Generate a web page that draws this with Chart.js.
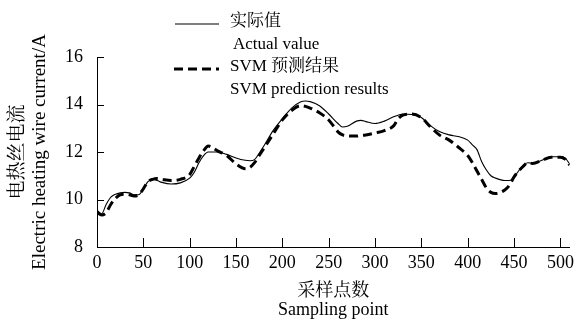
<!DOCTYPE html>
<html>
<head>
<meta charset="utf-8">
<script src="https://cdn.jsdelivr.net/npm/chart.js@4/dist/chart.umd.min.js"></script>
<style>
    html, body { margin: 0; padding: 0; background: #fff; }
    #wrap { width: 579px; height: 320px; position: relative; }
</style>
</head>
<body>
<div id="wrap"><canvas id="chart" width="579" height="320"></canvas></div>
<script>
// Sampling points and the two series
const samples = [0, 5, 10, 15, 20, 25, 30, 35, 40, 45, 50, 55, 60, 65, 70, 80, 90, 100, 105, 110,
    115, 120, 130, 140, 150, 160, 165, 170, 175, 180, 190, 200, 210, 220, 225, 230, 240, 250, 260,
    265, 270, 280, 285, 290, 300, 310, 320, 325, 330, 340, 350, 360, 370, 380, 390, 400, 405, 410,
    415, 420, 425, 430, 440, 445, 450, 460, 465, 470, 480, 490, 500, 505, 510];
const actualValues = [9.55, 9.4, 9.8, 10.1, 10.22, 10.28, 10.3, 10.28, 10.2, 10.2, 10.45, 10.75, 10.85,
    10.8, 10.72, 10.65, 10.7, 10.9, 11.15, 11.55, 11.85, 12.0, 12.0, 11.9, 11.75, 11.65, 11.63, 11.68,
    11.95, 12.25, 12.9, 13.4, 13.85, 14.12, 14.15, 14.12, 13.95, 13.6, 13.2, 13.05, 13.08, 13.3, 13.33,
    13.28, 13.2, 13.3, 13.48, 13.55, 13.6, 13.58, 13.45, 13.1, 12.85, 12.72, 12.65, 12.5, 12.3, 12.1,
    11.6, 11.25, 11.0, 10.9, 10.8, 10.8, 10.95, 11.45, 11.55, 11.52, 11.65, 11.8, 11.8, 11.75, 11.5];
const svmValues = [9.45, 9.35, 9.45, 9.8, 10.05, 10.2, 10.22, 10.2, 10.15, 10.2, 10.45, 10.75, 10.85,
    10.88, 10.85, 10.8, 10.85, 11.05, 11.4, 11.75, 12.05, 12.25, 12.05, 11.85, 11.5, 11.3, 11.35, 11.55,
    11.85, 12.15, 12.75, 13.35, 13.75, 13.95, 13.92, 13.85, 13.65, 13.35, 12.85, 12.72, 12.68, 12.67,
    12.7, 12.72, 12.8, 12.9, 13.1, 13.4, 13.55, 13.6, 13.45, 13.05, 12.7, 12.5, 12.2, 11.85, 11.55, 11.2,
    10.85, 10.5, 10.3, 10.25, 10.4, 10.6, 10.95, 11.4, 11.55, 11.52, 11.65, 11.78, 11.78, 11.7, 11.45];

const xTicks = [0, 50, 100, 150, 200, 250, 300, 350, 400, 450, 500];
const yTicks = [8, 10, 12, 14, 16];

const legendLabels = [
    ['实际值', 'Actual value'],
    ['SVM 预测结果', 'SVM prediction results']
];

const FONT = '"Liberation Serif", "Noto Serif CJK SC", "Noto Sans CJK SC", serif';

function toPoints(values) {
    return samples.map((x, i) => ({ x: x, y: values[i] }));
}

// Inward tick marks on both axes
const innerTicks = {
    id: 'innerTicks',
    afterDraw(chart) {
        const ctx = chart.ctx;
        const xs = chart.scales.x;
        const ys = chart.scales.y;
        ctx.save();
        ctx.strokeStyle = '#000';
        ctx.lineWidth = 1;
        ctx.beginPath();
        xTicks.forEach(v => {
            const px = Math.round(xs.getPixelForValue(v)) + 0.5;
            ctx.moveTo(px, ys.bottom);
            ctx.lineTo(px, ys.bottom - 9);
        });
        yTicks.forEach(v => {
            const py = Math.round(ys.getPixelForValue(v)) + 0.5;
            ctx.moveTo(xs.left, py);
            ctx.lineTo(xs.left + 7, py);
        });
        ctx.stroke();
        ctx.restore();
    }
};

// Legend with two text lines per entry
const twoLineLegend = {
    id: 'twoLineLegend',
    afterDraw(chart) {
        const ctx = chart.ctx;
        ctx.save();
        ctx.fillStyle = '#000';
        ctx.font = '17px ' + FONT;
        ctx.textBaseline = 'middle';
        const rows = [22, 67];
        chart.data.datasets.forEach((ds, i) => {
            const y = rows[i];
            ctx.strokeStyle = '#000';
            ctx.lineWidth = ds.borderWidth;
            ctx.setLineDash(ds.borderDash || []);
            ctx.beginPath();
            ctx.moveTo(i == 0 ? 175 : 174, y + 2);
            ctx.lineTo(219, y + 2);
            ctx.stroke();
            ctx.setLineDash([]);
            ctx.fillText(legendLabels[i][0], 230, y);
            ctx.fillText(legendLabels[i][1], i == 0 ? 233 : 230, y + 23);
        });
        ctx.restore();
    }
};

new Chart(document.getElementById('chart'), {
    type: 'line',
    data: {
        datasets: [{
            label: 'Actual value',
            data: toPoints(actualValues),
            borderColor: '#000',
            borderWidth: 1.1,
            pointRadius: 0,
            cubicInterpolationMode: 'monotone'
        }, {
            label: 'SVM prediction results',
            data: toPoints(svmValues),
            borderColor: '#000',
            borderWidth: 3,
            borderDash: [9, 5],
            pointRadius: 0,
            cubicInterpolationMode: 'monotone'
        }]
    },
    options: {
        responsive: false,
        animation: false,
        devicePixelRatio: 1,
        layout: { padding: { top: 57, right: 6, left: 0, bottom: 0 } },
        plugins: {
            legend: { display: false },
            tooltip: { enabled: false }
        },
        scales: {
            x: {
                type: 'linear',
                min: 0,
                max: 510,
                afterBuildTicks(scale) { scale.ticks = xTicks.map(v => ({ value: v })); },
                afterFit(scale) { scale.height = 73; },
                grid: { display: false, drawTicks: false },
                border: { display: true, color: '#000', width: 1 },
                ticks: {
                    color: '#000',
                    padding: 5,
                    maxRotation: 0,
                    autoSkip: false,
                    font: { family: FONT, size: 18 }
                },
                title: {
                    display: true,
                    text: ['采样点数', 'Sampling point'],
                    color: '#000',
                    font: { family: FONT, size: 18, lineHeight: 1.05 },
                    padding: { top: 6, bottom: 0 }
                }
            },
            y: {
                min: 8,
                max: 16,
                afterBuildTicks(scale) { scale.ticks = yTicks.map(v => ({ value: v })); },
                afterFit(scale) { scale.width = 97; },
                grid: { display: false, drawTicks: false },
                border: { display: true, color: '#000', width: 1 },
                ticks: {
                    color: '#000',
                    padding: 14,
                    autoSkip: false,
                    font: { family: FONT, size: 18 }
                },
                title: {
                    display: true,
                    text: ['电热丝电流', 'Electric heating wire current/A'],
                    color: '#000',
                    font: { family: FONT, size: 19, lineHeight: 1.16 },
                    padding: { top: 7, bottom: 0 }
                }
            }
        }
    },
    plugins: [innerTicks, twoLineLegend]
});
</script>
</body>
</html>
